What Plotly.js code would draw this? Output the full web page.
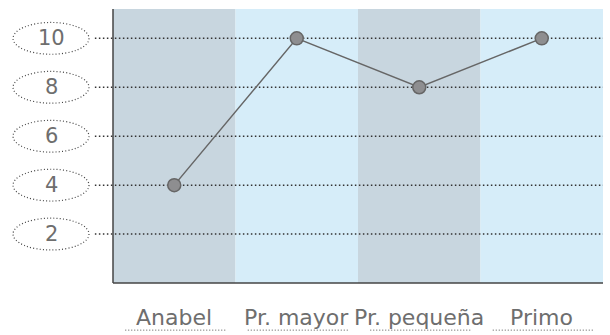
<!DOCTYPE html>
<html>
<head>
<meta charset="utf-8">
<script src="https://cdn.plot.ly/plotly-3.0.1.min.js"></script>
<style>html,body{margin:0;padding:0;background:#fff;}#chart{width:610px;height:335px;}</style>
</head>
<body>
<div id="chart"></div>
<script>
const categories = ["Anabel", "Pr. mayor", "Pr. pequeña", "Primo"];
const values = [4, 10, 8, 10];
const yTicks = [2, 4, 6, 8, 10];
const yTickLabels = ["2", "4", "6", "8", "10"];
const bandColors = ["#c8d6df", "#d6edf9", "#c8d6df", "#d6edf9"];

const FONT = "'DejaVu Sans', 'Open Sans', sans-serif";
const shapes = [];
const annotations = [];

// background bands
categories.forEach((c, i) => {
  shapes.push({type: "rect", xref: "x", yref: "paper", x0: i - 0.5, x1: i + 0.5, y0: 0, y1: 1,
    fillcolor: bandColors[i], line: {width: 0}, layer: "below"});
  // dotted underline under category label
  shapes.push({type: "line", xref: "x", yref: "paper", x0: i - 0.4, x1: i + 0.42, y0: -0.172, y1: -0.172,
    line: {color: "#555", width: 1, dash: "1px,2px"}});
  annotations.push({xref: "x", yref: "paper", x: i, y: -0.126, text: c, showarrow: false,
    font: {family: FONT, size: 22, color: "#6e6e6e"}, xanchor: "center", yanchor: "middle"});
});

// dotted gridlines and ellipse labels
yTicks.forEach((v, i) => {
  shapes.push({type: "line", xref: "paper", yref: "y", x0: -0.037, x1: 1, y0: v, y1: v,
    line: {color: "#333", width: 1.5, dash: "1.5px,2.5px"}, layer: "below"});
  shapes.push({type: "circle", xref: "paper", yref: "y", x0: -0.204, x1: -0.049, y0: v - 0.65, y1: v + 0.65,
    line: {color: "#444", width: 1.2, dash: "1px,2.2px"}});
  annotations.push({xref: "paper", yref: "y", x: -0.1265, y: v, text: yTickLabels[i], showarrow: false,
    font: {family: FONT, size: 21, color: "#6e6e6e"}, xanchor: "center", yanchor: "middle"});
});

// axis lines
shapes.push({type: "line", xref: "paper", yref: "paper", x0: 0, x1: 0, y0: 0, y1: 1,
  line: {color: "#444", width: 1.5}});
shapes.push({type: "line", xref: "paper", yref: "paper", x0: 0, x1: 1, y0: 0, y1: 0,
  line: {color: "#444", width: 1.5}});

const trace = {
  type: "scatter", mode: "lines+markers", x: categories, y: values,
  line: {color: "#666", width: 1.5},
  marker: {size: 13, color: "#8e8e90", line: {color: "#666", width: 1.5}},
  cliponaxis: false, hoverinfo: "skip"
};

const layout = {
  width: 610, height: 335,
  margin: {l: 113, r: 7, t: 9, b: 52},
  paper_bgcolor: "#fff", plot_bgcolor: "rgba(0,0,0,0)",
  showlegend: false,
  xaxis: {type: "category", range: [-0.5, 3.5], showgrid: false, zeroline: false,
    showticklabels: false, showline: false, ticks: "", fixedrange: true},
  yaxis: {range: [0, 11.2], showgrid: false, zeroline: false, showticklabels: false,
    showline: false, ticks: "", fixedrange: true},
  shapes: shapes,
  annotations: annotations
};

Plotly.newPlot("chart", [trace], layout, {displayModeBar: false, staticPlot: true});
</script>
</body>
</html>
